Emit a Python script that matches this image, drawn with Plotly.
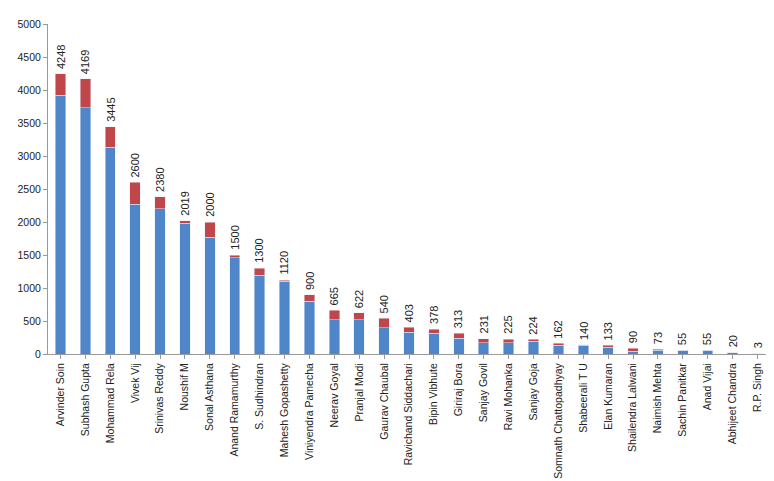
import plotly.graph_objects as go

names = ["Arvinder Soin", "Subhash Gupta", "Mohammad Rela", "Vivek Vij", "Srinivas Reddy",
         "Noushif M", "Sonal Asthana", "Anand Ramamurthy", "S. Sudhindran", "Mahesh Gopashetty",
         "Viniyendra Pamecha", "Neerav Goyal", "Pranjal Modi", "Gaurav Chaubal", "Ravichand Siddachari",
         "Bipin Vibhute", "Giriraj Bora", "Sanjay Govil", "Ravi Mohanka", "Sanjay Goja",
         "Somnath Chattopadhyay", "Shabeerali T U", "Elan Kumaran", "Shailendra Lalwani",
         "Naimish Mehta", "Sachin Panitkar", "Anad Vijai", "Abhijeet Chandra", "R.P. Singh"]
totals = [4248, 4169, 3445, 2600, 2380, 2019, 2000, 1500, 1300, 1120, 900, 665, 622, 540, 403,
          378, 313, 231, 225, 224, 162, 140, 133, 90, 73, 55, 55, 20, 3]
blue = [3920, 3730, 3130, 2270, 2200, 1980, 1770, 1460, 1190, 1100, 800, 520, 520, 400, 330,
        318, 240, 170, 170, 190, 130, 135, 100, 40, 60, 55, 55, 20, 3]
red = [t - b for t, b in zip(totals, blue)]

fig = go.Figure()
fig.add_bar(x=names, y=blue, marker_color="#4f86c9", width=0.42)
fig.add_bar(x=names, y=red, marker_color="#c0464a", width=0.42)
for n, t in zip(names, totals):
    fig.add_annotation(x=n, y=t, text=str(t), textangle=-90, showarrow=False,
                       yanchor="bottom", yshift=3, font=dict(size=11, color="#222"))
fig.update_layout(
    barmode="stack", showlegend=False, width=774, height=481,
    plot_bgcolor="white", paper_bgcolor="white",
    margin=dict(l=40, r=12, t=10, b=135),
    font=dict(family="Liberation Sans Narrow, Liberation Sans", size=10.5, color="#222"),
)
fig.update_xaxes(tickangle=-90, showline=True, linecolor="#999", ticks="outside",
                 tickcolor="#999", ticklen=4)
fig.update_yaxes(range=[0, 5000], dtick=500, showgrid=False, showline=True,
                 linecolor="#999", ticks="outside", tickcolor="#999", ticklen=4)
fig.write_html("out.html")
